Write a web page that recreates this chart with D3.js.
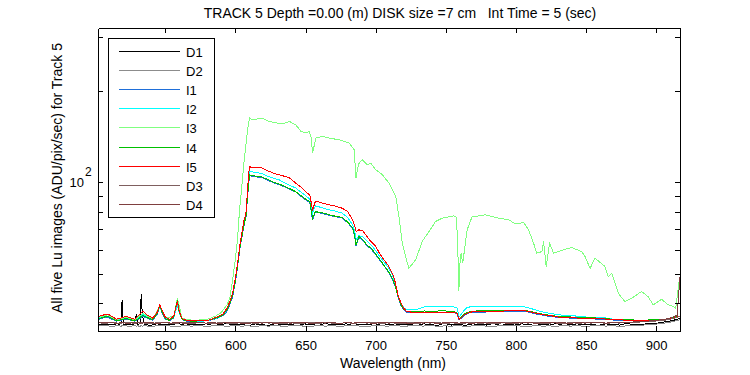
<!DOCTYPE html>
<html><head><meta charset="utf-8">
<script src="https://cdn.jsdelivr.net/npm/d3@7"></script>
<style>
body{margin:0;background:#fff;}
text{font-family:"Liberation Sans",Arial,Helvetica,sans-serif;fill:#000;white-space:pre;}
</style></head><body>
<svg id="chart" width="750" height="375"></svg>
<script>
// ---------- data ----------
const seriesNames = ["D1","D2","I1","I2","I3","I4","I5","D3","D4"];
const seriesColors = ["#000000","#8c8c8c","#1f6fd9","#00ffff","#80ff80","#00c000","#ff0000","#7f5f5f","#7f3f3f"];
const xTicks = [550,600,650,700,750,800,850,900];
const yTicks = [40,50,60,70,80,90,100,200,300];
const titleText = "TRACK 5 Depth =0.00 (m) DISK size =7 cm   Int Time = 5 (sec)";
const xLabel = "Wavelength (nm)";
const yLabel = "All five Lu images (ADU/pix/sec) for Track 5";

const wlMain = [
 502,505,509,512,515,519,522,525,528,531,
 534,537,541,544,546,548,550,553,556,558.6,
 560,562,565,570,575,580,584,588,591,594,
 596,598,600,601.5,603,604.5,606,607.5,609,610,
 612,615,619,623,627,631,635,639,643,647,
 651,653,655,657,660,663,667,671,676,680,
 683.5,685,686,688,691,694,697,700,703,706,
 709,712,714,716,718,720,722,725,730,735,
 740,745,750,755,758,759.5,761,763,765,768,
 772,778,785,792,800,806,810,814,818,822,
 826,830,835,840,847,855,863,870,877,885,
 893,900,906,911,914,917];

const I5 = [
 36.1,36.5,36.8,36.2,35.4,35.8,36.2,35.8,35.4,36.4,
 37.7,36.6,35.7,37.2,39.5,37.6,36.0,35.4,36.3,40.5,
 37.5,35.6,35.2,35.0,35.0,35.1,35.6,36.2,36.8,38.5,
 40.5,43.2,48.5,54.0,61.4,68.0,74.5,79.0,100.0,112.5,
 111.5,112.0,111.2,109.0,107.0,105.7,104.5,103.0,99.2,96.0,
 92.0,90.8,81.1,86.4,86.0,85.0,84.2,83.5,82.1,80.0,
 75.2,72.0,68.8,69.7,69.0,66.0,63.5,61.5,58.0,55.5,
 53.2,50.0,46.8,42.5,40.0,38.5,37.6,37.4,37.4,37.4,
 37.3,37.4,37.4,37.4,37.0,35.4,35.8,36.6,37.0,37.4,
 37.5,37.6,37.6,37.7,37.8,37.8,37.5,37.1,36.8,36.5,
 36.3,36.0,35.9,35.8,35.7,35.6,35.5,35.3,35.2,35.1,
 35.1,35.2,35.2,35.6,35.9,36.2];

const I2 = [
 35.6,36.0,36.3,35.8,35.1,35.4,35.8,35.4,35.1,35.8,
 36.8,36.0,35.4,36.8,38.8,37.1,35.7,35.2,35.9,39.5,
 37.0,35.4,35.0,34.9,34.9,35.0,35.4,35.9,36.5,38.0,
 40.0,42.8,48.0,53.5,60.5,67.0,73.0,78.0,96.0,108.4,
 108.0,107.5,106.5,104.5,103.0,101.8,99.5,97.5,95.6,92.5,
 89.5,87.9,79.0,83.6,82.8,82.0,81.1,80.3,79.1,76.5,
 72.4,69.0,64.6,66.6,66.0,63.8,62.0,59.5,56.8,54.5,
 52.4,49.5,46.2,42.5,40.0,38.7,38.0,38.0,38.2,38.9,
 39.0,39.0,39.0,39.0,38.6,36.0,36.8,37.8,38.6,39.0,
 39.0,38.9,38.9,38.9,38.9,38.9,38.5,38.0,37.5,37.2,
 36.9,36.7,36.4,36.4,36.1,35.9,35.8,35.4,35.2,35.2,
 35.1,35.2,35.3,35.6,35.9,36.1];

const I4 = [
 35.5,35.9,36.2,35.6,35.0,35.3,35.7,35.3,35.0,35.6,
 36.5,35.9,35.3,36.9,39.2,37.2,35.6,35.1,36.0,41.0,
 37.2,35.4,35.0,34.9,35.0,35.1,35.5,36.0,36.6,38.0,
 40.0,42.5,47.5,53.0,60.0,66.0,72.0,77.0,94.0,105.7,
 105.0,104.5,103.9,102.0,100.0,98.5,97.0,95.0,93.1,90.0,
 87.2,86.4,76.1,80.0,79.5,79.0,78.1,77.3,76.5,74.0,
 70.8,67.0,62.2,66.3,64.5,62.0,60.5,58.0,55.6,53.2,
 51.0,48.0,45.6,42.0,39.5,38.2,37.6,37.5,37.6,37.7,
 37.6,37.7,37.7,37.6,37.2,35.5,36.0,36.8,37.2,37.6,
 37.7,37.7,37.8,37.8,37.9,37.9,37.6,37.2,36.9,36.6,
 36.4,36.2,36.1,36.0,35.9,35.8,35.6,35.4,35.3,35.2,
 35.2,35.3,35.4,35.7,36.0,36.3];

const I1 = [
 35.3,35.7,36.0,35.4,34.9,35.2,35.5,35.2,34.9,35.4,
 36.2,35.7,35.2,36.6,38.8,36.9,35.5,35.0,35.8,40.0,
 37.0,35.3,34.9,34.8,34.9,35.0,35.3,35.8,36.4,37.6,
 39.5,42.0,47.0,52.5,59.5,65.5,71.5,76.5,93.0,105.0,
 104.5,104.0,103.5,101.5,99.5,98.0,96.5,94.5,92.8,89.5,
 86.8,85.8,75.0,79.6,79.2,78.6,77.8,77.0,76.2,73.6,
 70.4,66.5,61.5,65.8,64.0,61.7,60.1,57.7,55.3,53.0,
 50.7,47.8,45.3,41.8,39.3,38.0,37.4,37.3,37.3,37.4,
 37.3,37.4,37.4,37.3,36.9,35.2,35.7,36.5,36.9,37.3,
 37.4,37.4,37.5,37.5,37.6,37.6,37.3,36.9,36.6,36.3,
 36.1,35.9,35.8,35.7,35.6,35.5,35.4,35.2,35.1,35.1,
 35.1,35.2,35.3,35.6,35.9,36.2];

const wlI3 = [
 502,509,515,522,528,534,541,546,550,556,
 558.6,562,570,580,586,590,594,596,598,600,
 601.5,603,604.5,606,607.5,609,610,612,615,619,
 623,627,631,634,638.5,643,646.8,650.4,652.7,654,
 655,656.2,657.4,662,667,674,681,684.7,685.9,687,
 688.2,690.6,694.1,696.5,700,704.8,709.5,714.3,716.6,719,
 721.3,723.7,728.5,733.2,738,742.7,747.4,755.7,757.4,758.4,
 759.3,760.2,760.9,762.1,765.2,768.7,778.2,787.7,794.8,799.6,
 805.5,809,812.6,814.9,818.5,819.7,821.6,824,826.8,835.1,
 839.8,846.9,849.3,852.9,856.4,863.5,865.9,868.3,873,877.7,
 882.5,889.6,894.3,897.9,903.8,908.6,912.1,914,916.5];

const I3 = [
 36.0,36.6,35.3,36.0,35.3,37.0,35.5,39.0,35.8,36.2,
 41.5,35.6,35.1,35.4,36.3,37.3,39.5,41.5,47.7,56.0,
 65.0,82.0,96.0,115.0,133.0,152.0,162.4,160.3,161.0,162.4,
 159.0,157.1,156.0,155.5,158.2,154.3,146.7,144.9,146.7,140.0,
 124.6,132.0,139.5,141.3,139.5,137.7,134.4,127.7,103.1,110.0,
 115.5,118.4,114.0,115.5,109.8,105.7,99.2,89.7,77.1,63.0,
 56.9,52.1,55.5,63.8,68.8,74.2,76.1,77.5,76.8,65.0,
 43.7,55.0,58.4,54.2,69.7,76.8,78.1,76.1,75.2,72.9,
 73.6,69.7,63.0,58.4,59.1,63.8,52.8,63.0,58.4,60.2,
 60.9,59.1,56.9,52.1,56.2,52.8,48.9,50.2,43.1,40.5,
 41.5,43.7,42.0,39.5,41.2,39.5,39.0,38.5,47.7];

const wlDark = [
 502,507,512,516,518.5,519.2,520,524,528,529.4,
 530.5,532,532.8,533.6,535,539,544,549,554,559,
 564,569,574,579,584,589,594,599,604,609,
 614,619,624,629,634,639,644,649,654,659,
 664,669,674,679,684,689,694,699,704,709,
 714,719,724,729,734,739,744,749,754,759,
 764,769,774,779,784,789,794,799,804,809,
 814,819,824,829,834,839,844,849,854,859,
 864,869,874,879,884,889,894,899,904,909,
 912,915,917];

const D1 = [
 34.2,33.9,34.1,33.8,34.3,41.0,34.0,33.9,34.2,36.9,
 34.0,34.4,42.9,36.8,34.1,33.8,34.2,33.9,34.0,34.3,
 33.8,34.1,33.9,34.2,33.8,34.0,34.3,33.9,34.1,33.7,
 34.2,34.0,33.8,34.3,33.9,34.1,33.7,34.2,34.0,33.8,
 34.3,33.9,34.0,34.2,33.8,34.1,33.9,34.3,33.8,34.0,
 34.2,33.9,34.1,33.7,34.2,34.0,33.8,34.3,33.9,34.1,
 33.8,34.2,34.0,33.9,34.3,33.8,34.1,33.9,34.2,34.0,
 33.8,34.1,33.9,34.3,33.8,34.0,34.2,33.9,34.1,33.8,
 34.2,34.0,33.9,34.3,34.0,34.1,34.2,34.3,34.6,34.9,
 35.1,35.4,35.6];

const D2 = [
 33.6,33.9,33.5,33.8,33.6,33.7,33.9,33.5,33.8,33.6,
 33.7,33.5,33.9,33.6,33.8,33.5,33.7,33.9,33.6,33.5,
 33.8,33.6,33.9,33.5,33.7,33.8,33.5,33.9,33.6,33.7,
 33.5,33.8,33.6,33.9,33.5,33.7,33.8,33.6,33.5,33.9,
 33.6,33.8,33.5,33.7,33.9,33.6,33.5,33.8,33.7,33.6,
 33.9,33.5,33.7,33.8,33.6,33.9,33.5,33.7,33.6,33.8,
 33.5,33.7,33.9,33.6,33.5,33.8,33.7,33.9,33.6,33.5,
 33.8,33.6,33.7,33.5,33.9,33.6,33.8,33.5,33.7,33.9,
 33.6,33.8,33.5,33.7,33.9,33.8,34.0,34.1,34.3,34.6,
 34.8,35.1,35.3];

const D3 = [
 34.5,34.3,34.6,34.4,34.2,34.5,34.4,34.6,34.3,34.5,
 34.4,34.6,34.3,34.5,34.4,34.2,34.5,34.6,34.3,34.4,
 34.6,34.3,34.5,34.4,34.2,34.6,34.4,34.3,34.5,34.6,
 34.3,34.5,34.4,34.6,34.2,34.5,34.3,34.4,34.6,34.3,
 34.5,34.4,34.2,34.6,34.3,34.5,34.4,34.6,34.3,34.5,
 34.4,34.2,34.6,34.3,34.5,34.4,34.6,34.2,34.5,34.3,
 34.4,34.6,34.3,34.5,34.2,34.4,34.6,34.3,34.5,34.4,
 34.6,34.3,34.4,34.5,34.2,34.6,34.3,34.5,34.4,34.6,
 34.3,34.5,34.4,34.6,34.5,34.7,34.8,34.9,35.1,35.3,
 35.6,35.9,36.2];

const D4 = [
 34.4,34.6,34.5,34.3,34.6,34.4,34.5,34.3,34.6,34.4,
 34.5,34.3,34.6,34.4,34.5,34.6,34.3,34.5,34.4,34.6,
 34.3,34.5,34.6,34.4,34.5,34.3,34.6,34.5,34.4,34.3,
 34.6,34.4,34.5,34.3,34.6,34.4,34.5,34.6,34.3,34.5,
 34.4,34.6,34.3,34.5,34.4,34.6,34.5,34.3,34.6,34.4,
 34.5,34.6,34.3,34.5,34.4,34.6,34.3,34.5,34.6,34.4,
 34.5,34.3,34.6,34.4,34.5,34.6,34.3,34.5,34.4,34.6,
 34.3,34.5,34.6,34.4,34.5,34.3,34.6,34.4,34.5,34.6,
 34.4,34.5,34.6,34.5,34.7,34.8,34.9,35.1,35.3,35.6,
 36.0,36.5,48.9];

// ---------- chart ----------
const seriesData = {
  D1:[wlDark,D1], D2:[wlDark,D2], I1:[wlMain,I1], I2:[wlMain,I2], I3:[wlI3,I3],
  I4:[wlMain,I4], I5:[wlMain,I5], D3:[wlDark,D3], D4:[wlDark,D4]
};

const svg = d3.select("#chart");
const L = 98, R = 680, T = 28, B = 331;
const x = d3.scaleLinear().domain([502, 917]).range([L, R]);
const y = d3.scaleLog().domain([32.4, 321]).range([B, T]);

svg.append("rect").attr("width",750).attr("height",375).attr("fill","#fff");

svg.append("defs").append("clipPath").attr("id","clip")
  .append("rect").attr("x",L).attr("y",T).attr("width",R-L+1).attr("height",B-T+1);

const line = d3.line().x(d=>x(d[0])).y(d=>y(d[1]));
const plot = svg.append("g").attr("clip-path","url(#clip)");
seriesNames.forEach((n,i)=>{
  const [wl, v] = seriesData[n];
  const pts = wl.map((w,k)=>[w, v[k]]).filter(p=>p[1]!==undefined);
  plot.append("path").datum(pts).attr("d",line)
    .attr("fill","none").attr("stroke",seriesColors[i]).attr("stroke-width",1)
    .attr("shape-rendering","crispEdges");
});

// axes
const gx = svg.append("g").attr("transform",`translate(0,${B})`)
  .call(d3.axisBottom(x).tickValues(xTicks).tickSizeInner(-5).tickSizeOuter(0).tickPadding(10).tickFormat(d3.format("d")));
const gxt = svg.append("g").attr("transform",`translate(0,${T})`)
  .call(d3.axisTop(x).tickValues(xTicks).tickSizeInner(-5).tickSizeOuter(0).tickFormat(""));
const gyl = svg.append("g").attr("transform",`translate(${L},0)`)
  .call(d3.axisLeft(y).tickValues(yTicks).tickSizeInner(-5).tickSizeOuter(0).tickFormat(""));
const gyr = svg.append("g").attr("transform",`translate(${R},0)`)
  .call(d3.axisRight(y).tickValues(yTicks).tickSizeInner(-5).tickSizeOuter(0).tickFormat(""));
[gx,gxt,gyl,gyr].forEach(g=>{
  g.selectAll("path,line").attr("stroke","#000").attr("shape-rendering","crispEdges");
  g.selectAll("text").attr("font-size","13px").attr("font-family","Liberation Sans, Arial, sans-serif").attr("fill","#000");
});

// 10^2 label
svg.append("text").attr("x",84).attr("y",187).attr("text-anchor","end").attr("font-size","13px").text("10");
svg.append("text").attr("x",85).attr("y",176).attr("font-size","12px").text("2");

// title & labels
svg.append("text").attr("x",400).attr("y",18).attr("text-anchor","middle").attr("font-size","14px")
  .attr("xml:space","preserve").text(titleText);
svg.append("text").attr("x",393).attr("y",368).attr("text-anchor","middle").attr("font-size","14px").text(xLabel);
svg.append("text").attr("transform","translate(62,178) rotate(-90)").attr("text-anchor","middle").attr("font-size","14px").text(yLabel);

// legend
const lg = svg.append("g");
lg.append("rect").attr("x",108.5).attr("y",38.5).attr("width",106).attr("height",179)
  .attr("fill","#fff").attr("stroke","#000").attr("shape-rendering","crispEdges");
seriesNames.forEach((n,i)=>{
  const ry = Math.round(50.7 + i*19.17) + 0.5;
  lg.append("line").attr("x1",119).attr("x2",180).attr("y1",ry).attr("y2",ry)
    .attr("stroke",seriesColors[i]).attr("stroke-width",1).attr("shape-rendering","crispEdges");
  lg.append("text").attr("x",186).attr("y",ry+5).attr("font-size","13px").text(n);
});
</script>
</body></html>
